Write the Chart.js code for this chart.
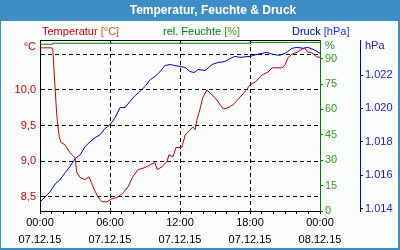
<!DOCTYPE html>
<html>
<head>
<meta charset="utf-8">
<script src="https://cdn.jsdelivr.net/npm/chart.js@4.4.0/dist/chart.umd.min.js"></script>
<style>
  html, body { margin: 0; padding: 0; background: #fff; }
  canvas { display: block; }
</style>
</head>
<body>
<canvas id="myChart" width="400" height="250"></canvas>
<script>
// Stunden ab 07.12.15 00:00
const tempHours = [0, 1.0, 1.1, 1.2, 1.3, 1.45, 1.65, 1.8, 2.15, 2.55, 3.0, 3.15, 3.45, 3.85, 4.2, 4.55, 4.95, 5.3, 5.75, 6.15,
  6.6, 7.05, 7.55, 7.95, 8.4, 9.0, 9.45, 9.85, 10.05, 10.45, 10.9, 11.05, 11.4, 11.65, 12.15, 12.45, 12.7, 13.1, 13.3, 13.45,
  13.7, 13.95, 14.3, 14.55, 15.0, 15.45, 15.7, 16.1, 16.55, 17.15, 17.55, 18.0, 18.45, 19.05, 19.55, 19.9, 20.75, 21.0, 21.25, 21.6,
  22.05, 22.45, 22.7, 22.95, 23.3, 23.75, 24];
const tempValues = [10.59, 10.59, 10.56, 10.28, 10.0, 9.62, 9.34, 9.26, 9.23, 9.12, 9.05, 8.84, 8.77, 8.74, 8.78, 8.64, 8.5, 8.43, 8.43, 8.47,
  8.49, 8.54, 8.64, 8.78, 8.88, 8.91, 8.95, 8.98, 8.88, 8.92, 9.0, 9.09, 9.06, 9.19, 9.19, 9.37, 9.41, 9.48, 9.44, 9.58,
  9.72, 9.89, 10.0, 9.96, 9.89, 9.79, 9.73, 9.75, 9.79, 9.9, 9.97, 10.07, 10.11, 10.21, 10.25, 10.31, 10.31, 10.35, 10.45, 10.5,
  10.53, 10.57, 10.59, 10.53, 10.52, 10.46, 10.46];

const pressHours = [0, 0.85, 1.3, 1.7, 2.15, 2.55, 3.0, 3.45, 3.85, 4.2, 4.7, 5.15, 5.55, 6.0, 6.45, 6.85, 7.3, 7.7, 8.15, 8.55,
  9.0, 9.45, 9.85, 10.3, 10.7, 11.15, 11.55, 12.0, 12.45, 12.85, 13.2, 13.55, 14.15, 14.75, 15.25, 15.85, 16.3, 16.7, 17.15, 18.0,
  18.6, 19.45, 19.95, 20.55, 21.15, 21.6, 22.05, 22.55, 22.95, 23.4, 23.75, 24];
const pressValues = [1014.39, 1014.99, 1015.47, 1015.71, 1016.14, 1016.5, 1016.98, 1017.22, 1017.7, 1017.94,
  1018.24, 1018.42, 1018.78, 1019.02, 1019.45, 1020.05, 1020.05, 1020.41, 1020.77, 1021.01,
  1021.31, 1021.73, 1021.91, 1022.21, 1022.57, 1022.63, 1022.57, 1022.51, 1022.45, 1022.21,
  1022.15, 1022.33, 1022.27, 1022.63, 1022.75, 1022.81, 1022.99, 1023.12, 1023.06, 1023.12,
  1023.24, 1023.36, 1023.24, 1023.18, 1023.36, 1023.6, 1023.66, 1023.6, 1023.66, 1023.54,
  1023.42, 1023.3];

const humHours = [0, 1.1, 18, 22.2, 24];
const humValues = [97.9, 98.5, 99.1, 99.6, 99.6];

const timeLabels = ['00:00', '06:00', '12:00', '18:00', '00:00'];
const dateLabels = ['07.12.15', '07.12.15', '07.12.15', '07.12.15', '08.12.15'];
const tempTicks = [8.5, 9.0, 9.5, 10.0, 10.5];
const tempLabelMax = 10.0;   // 10,5 hat keine Beschriftung
const humTicks = [0, 15, 30, 45, 60, 75, 90];
const pressTicks = [1014, 1016, 1018, 1020, 1022];
// wo die Einheit oben an der Achse steht
const tempUnitAt = 10.6, humUnitAt = 97.7, pressUnitAt = 1023.75;

const RED = '#cc0000', GREEN = '#008000', BLUE = '#0000cc';

const legendItems = [
  { name: 'Temperatur ', unit: '[°C]', x: 42, color: RED, unitColor: '#e8541a' },
  { name: 'rel. Feuchte ', unit: '[%]', x: 163, color: GREEN, unitColor: '#4a9f10' },
  { name: 'Druck ', unit: '[hPa]', x: 292, color: BLUE, unitColor: '#2a2aff' }
];

Chart.defaults.font.family = '"Liberation Sans", Arial, sans-serif';
Chart.defaults.font.size = 11;

const frame = {
  id: 'frame',
  beforeDraw(chart) {
    const c = chart.ctx;
    c.save();
    c.fillStyle = '#fbfdfc';
    c.fillRect(0, 0, 400, 250);
    c.fillStyle = '#3d8ec6';
    c.fillRect(0, 0, 400, 21);
    c.fillRect(0, 0, 1, 250);
    c.fillRect(398, 0, 2, 250);
    c.fillRect(0, 248, 400, 2);
    c.fillStyle = '#fff';
    c.font = 'bold 12px "Liberation Sans"';
    c.textAlign = 'center';
    c.textBaseline = 'middle';
    c.fillText('Temperatur, Feuchte & Druck', 213, 11);
    c.font = '11px "Liberation Sans"';
    c.textAlign = 'left';
    legendItems.forEach(it => {
      c.fillStyle = it.color;
      c.fillText(it.name, it.x, 32);
      c.fillStyle = it.unitColor;
      c.fillText(it.unit, it.x + c.measureText(it.name).width, 32);
    });
    c.restore();
  }
};

const pts = (xs, ys) => xs.map((h, i) => ({ x: h, y: ys[i] }));
const clear = 'rgba(0,0,0,0)';

const ctx = document.getElementById('myChart');
const chart = new Chart(ctx, {
  type: 'line',
  data: {
    datasets: [{
      label: 'Temperatur',
      data: pts(tempHours, tempValues),
      borderColor: RED,
      borderWidth: 1,
      pointRadius: 0,
      yAxisID: 'yT'
    }, {
      label: 'Druck',
      data: pts(pressHours, pressValues),
      borderColor: BLUE,
      borderWidth: 1,
      pointRadius: 0,
      yAxisID: 'yP'
    }, {
      label: 'rel. Feuchte',
      data: pts(humHours, humValues),
      borderColor: GREEN,
      borderWidth: 1,
      pointRadius: 0,
      stepped: 'after',
      yAxisID: 'yH'
    }]
  },
  options: {
    responsive: false,
    animation: false,
    layout: { padding: { top: 40, left: 0, right: 0, bottom: 0 } },
    plugins: {
      legend: { display: false },
      title: { display: false },
      tooltip: { enabled: false }
    },
    scales: {
      x: {
        type: 'linear',
        min: 0,
        max: 24,
        afterFit: s => { s.height = 39; },
        ticks: {
          stepSize: 1,
          autoSkip: false,
          maxRotation: 0,
          padding: 0,
          color: '#000',
          font: { size: 11, lineHeight: 1.6 },
          callback: v => v % 6 === 0 ? [timeLabels[v / 6], dateLabels[v / 6]] : ''
        },
        grid: {
          color: c => (c.tick && c.tick.value % 6 === 0 && c.tick.value > 0 && c.tick.value < 24) ? '#000' : clear,
          tickColor: '#000',
          tickLength: 3
        },
        border: { color: '#000', dash: [4, 3] }
      },
      x2: {
        type: 'linear',
        position: 'top',
        min: 0,
        max: 24,
        afterFit: s => { s.height = 0; },
        ticks: { display: false },
        grid: { display: false },
        border: { color: '#000' }
      },
      yT: {
        position: 'left',
        min: 8.30,
        max: 10.70,
        afterFit: s => { s.width = 40; },
        afterBuildTicks: s => { s.ticks = tempTicks.concat([tempUnitAt]).map(v => ({ value: v })); },
        ticks: {
          autoSkip: false,
          color: RED,
          padding: 4,
          callback: v => v === tempUnitAt ? '°C' : (v > tempLabelMax ? '' : v.toFixed(1).replace('.', ','))
        },
        grid: {
          drawTicks: false,
          color: c => (c.tick && c.tick.value !== tempUnitAt) ? '#000' : clear
        },
        border: { color: '#000', dash: [4, 3] }
      },
      yH: {
        position: 'right',
        weight: 1,
        min: 0,
        max: 101,
        afterFit: s => { s.width = 40; },
        afterBuildTicks: s => { s.ticks = humTicks.concat([humUnitAt]).map(v => ({ value: v })); },
        ticks: {
          autoSkip: false,
          color: '#3a9a1e',
          padding: 2,
          callback: v => v === humUnitAt ? '%' : String(v)
        },
        grid: {
          drawOnChartArea: false,
          tickLength: 3,
          tickColor: c => (c.tick && c.tick.value === humUnitAt) ? clear : GREEN
        },
        border: { color: GREEN }
      },
      yP: {
        position: 'right',
        weight: 2,
        min: 1013.85,
        max: 1024.1,
        afterFit: s => { s.width = 40; },
        afterBuildTicks: s => { s.ticks = pressTicks.concat([pressUnitAt]).map(v => ({ value: v })); },
        ticks: {
          autoSkip: false,
          color: '#1a1acc',
          padding: 2,
          callback: v => v === pressUnitAt ? 'hPa' : '1.' + String(v).slice(1)
        },
        grid: {
          drawOnChartArea: false,
          tickLength: 3,
          tickColor: c => (c.tick && c.tick.value === pressUnitAt) ? clear : BLUE
        },
        border: { color: BLUE }
      }
    }
  },
  plugins: [frame]
});
</script>
</body>
</html>
